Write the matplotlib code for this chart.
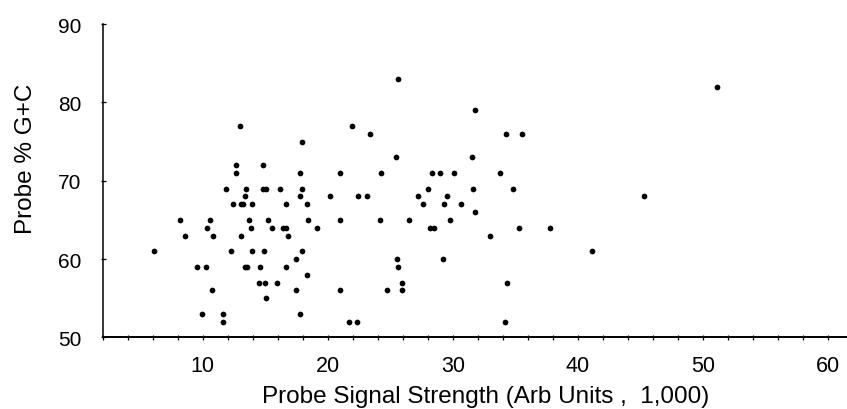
import matplotlib
matplotlib.use('Agg')
import matplotlib.pyplot as plt
from matplotlib.ticker import MultipleLocator, NullFormatter

plt.rcParams['font.family'] = ['Liberation Sans', 'DejaVu Sans']

# probe signal strength (arb units x 1000) and probe %G+C
signal = [13.0, 17.9, 12.7, 14.8, 12.7, 17.75, 21.0,
          11.85, 13.5, 14.8, 15.05, 16.2, 17.9,
          13.35, 17.75, 20.15,
          12.4, 13.05, 13.25, 13.95, 16.65, 18.35,
          8.15, 10.55, 13.7, 15.2, 18.45, 21.0,
          10.35, 13.85, 15.55, 16.4, 16.65, 19.1,
          8.6, 10.85, 13.1, 16.8,
          6.1, 12.25, 13.95, 14.9, 17.95,
          17.45,
          9.55, 10.25, 13.35, 13.55, 14.55, 16.65,
          18.3,
          14.5, 15.0, 15.95,
          10.75, 17.5, 20.95,
          15.05,
          9.95, 11.6, 17.8,
          11.6, 21.7,
          25.6, 31.75, 21.95, 23.35, 34.25, 35.5,
          25.45, 31.5,
          24.25, 28.35, 28.95, 30.1, 33.8,
          28.0, 31.6, 34.8,
          22.45, 23.15, 27.25, 29.55,
          27.6, 29.25, 30.65,
          31.8,
          24.15, 26.5, 29.75,
          28.15, 28.5, 35.3, 37.8,
          32.95,
          25.5, 29.2,
          25.6,
          25.9, 34.3,
          24.7, 25.9,
          22.35, 34.15,
          51.1, 45.25, 41.1]

gc = [77, 75, 72, 72, 71, 71, 71,
      69, 69, 69, 69, 69, 69,
      68, 68, 68,
      67, 67, 67, 67, 67, 67,
      65, 65, 65, 65, 65, 65,
      64, 64, 64, 64, 64, 64,
      63, 63, 63, 63,
      61, 61, 61, 61, 61,
      60,
      59, 59, 59, 59, 59, 59,
      58,
      57, 57, 57,
      56, 56, 56,
      55,
      53, 53, 53,
      52, 52,
      83, 79, 77, 76, 76, 76,
      73, 73,
      71, 71, 71, 71, 71,
      69, 69, 69,
      68, 68, 68, 68,
      67, 67, 67,
      66,
      65, 65, 65,
      64, 64, 64, 64,
      63,
      60, 60,
      59,
      57, 57,
      56, 56,
      52, 52,
      82, 68, 61]

fig = plt.figure(figsize=(8.47, 4.10), dpi=100)
ax = fig.add_axes([0.1211, 0.1744, 0.8789, 0.7646])

ax.scatter(signal, gc, s=17, c='black', marker='o', linewidths=0, clip_on=False, zorder=3)

ax.set_xlim(2, 61.5)
ax.set_ylim(50, 90)

for side in ['top', 'right']:
    ax.spines[side].set_visible(False)
ax.spines['bottom'].set_linewidth(1.4)
ax.spines['left'].set_linewidth(1.1)

ax.xaxis.set_major_locator(MultipleLocator(10))
ax.xaxis.set_minor_locator(MultipleLocator(2))
ax.xaxis.set_minor_formatter(NullFormatter())
ax.yaxis.set_major_locator(MultipleLocator(10))

ax.tick_params(axis='x', which='both', direction='inout', length=3.6, width=0.9,
               labelsize=15.5, pad=10.5)
ax.tick_params(axis='y', which='major', direction='inout', length=3.6, width=0.9,
               labelsize=15, pad=13.5)

ax.set_xlabel('Probe Signal Strength (Arb Units ,  1,000)', fontsize=17.5, va='baseline')
ax.xaxis.set_label_coords(0.5148, -0.2073)
ax.set_ylabel('Probe % G+C', fontsize=17.5, va='baseline')
ax.yaxis.set_label_coords(-0.0949, 0.5726)

fig.savefig('out.png', dpi=100)
